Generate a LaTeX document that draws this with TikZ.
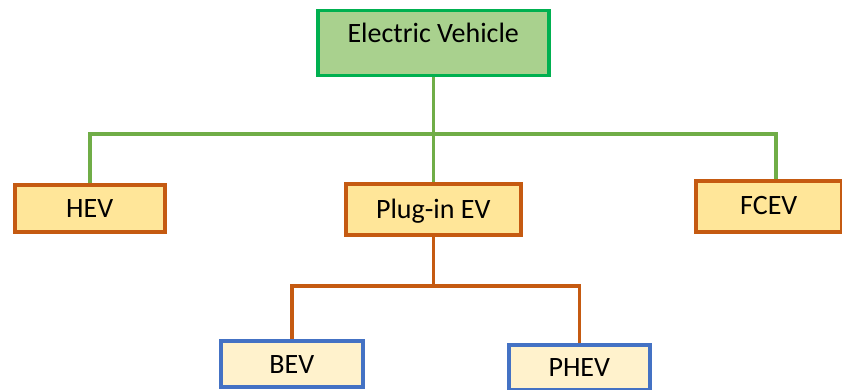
\documentclass[tikz,border=0pt]{standalone}
\usepackage{fontspec}
\setmainfont{Carlito}
\definecolor{evfill}{HTML}{A9D18E}
\definecolor{evborder}{HTML}{00B050}
\definecolor{gline}{HTML}{70AD47}
\definecolor{oborder}{HTML}{C55A11}
\definecolor{ofill}{HTML}{FFE699}
\definecolor{bborder}{HTML}{4472C4}
\definecolor{bfill}{HTML}{FFF2CC}
\begin{document}
\begin{tikzpicture}[x=1pt,y=-1pt,
  box/.style={draw, line width=3.5pt, anchor=north west, inner sep=0pt, align=center,
    font=\fontsize{28}{32}\selectfont},
  topbox/.style={box, draw=evborder, fill=evfill},
  midbox/.style={box, draw=oborder, fill=ofill},
  lowbox/.style={box, draw=bborder, fill=bfill},
  gconn/.style={draw=gline, line width=3.5pt},
  oconn/.style={draw=oborder, line width=3.5pt}]
\useasboundingbox (0,0) rectangle (842,390);
\node[topbox, minimum width=231pt, text height=32pt, text depth=33pt] (ev) at (316,9) {Electric Vehicle};
\node[midbox, minimum width=150pt, text height=33pt, text depth=14pt] (hev) at (13,183) {HEV};
\node[midbox, minimum width=175pt, text height=35pt, text depth=16pt] (pev) at (344,182) {Plug-in EV};
\node[midbox, minimum width=146pt, text height=34pt, text depth=17pt] (fcev) at (694,179) {FCEV};
\node[lowbox, minimum width=142pt, text height=33pt, text depth=13pt] (bev) at (219,339) {BEV};
\node[lowbox, minimum width=141pt, text height=32pt, text depth=13pt] (phev) at (507,343) {PHEV};
\coordinate (gj) at (ev.south |- 0,134);
\coordinate (gl) at (hev.north |- 0,134);
\coordinate (gr) at (776,134);
\coordinate (oj) at (pev.south |- 0,286);
\coordinate (ol) at (bev.north |- 0,286);
\coordinate (or) at (phev.north |- 0,286);
\draw[gconn] (ev.south) -- (gj) -- (pev.north);
\draw[gconn] (hev.north) -- (gl) -- (gr) -- (gr |- fcev.north);
\draw[oconn] (pev.south) -- (oj);
\draw[oconn] (bev.north) -- (ol) -- (or) -- (phev.north);
\end{tikzpicture}
\end{document}
